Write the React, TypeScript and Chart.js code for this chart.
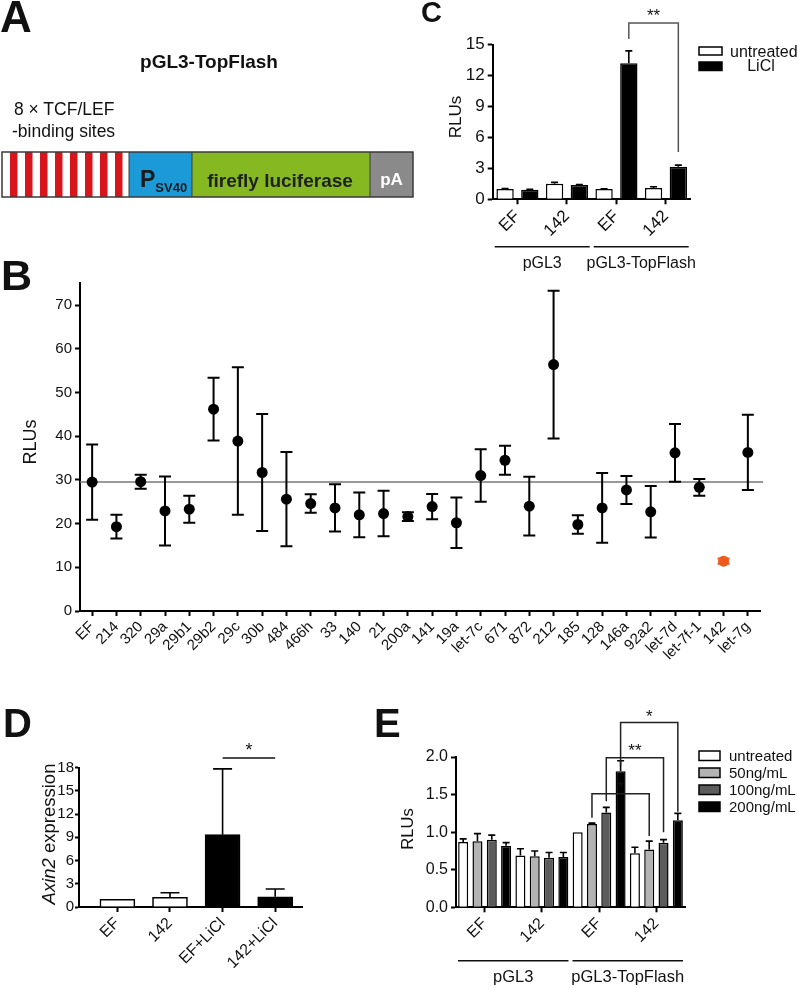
import React, { useEffect, useRef } from 'react';
import { Chart, registerables } from 'chart.js';

Chart.register(...registerables);

const FONT = '"Liberation Sans", Arial, Helvetica, sans-serif';
const ORANGE = '#ee5a1c';

// ---------- Panel B data ----------
const bLabels = ['EF', '214', '320', '29a', '29b1', '29b2', '29c', '30b', '484', '466h', '33', '140', '21', '200a', '141', '19a', 'let-7c', '671', '872', '212', '185', '128', '146a', '92a2', 'let-7d', 'let-7f-1', '142', 'let-7g'];
const bMeans = [29.5, 19.3, 29.6, 22.9, 23.3, 46.2, 38.9, 31.7, 25.6, 24.6, 23.6, 22.0, 22.3, 21.6, 23.9, 20.2, 31.0, 34.5, 24.0, 56.4, 19.8, 23.6, 27.7, 22.7, 36.2, 28.3, 11.4, 36.3];
const bErrors = [8.6, 2.7, 1.6, 7.9, 3.1, 7.2, 16.9, 13.4, 10.8, 2.1, 5.4, 5.1, 5.2, 1.0, 2.9, 5.8, 6.0, 3.3, 6.7, 16.9, 2.1, 8.0, 3.2, 5.9, 6.6, 1.9, 0.6, 8.6];
const bReference = 29.5;
const bHighlighted = '142';
const bTicks = [0, 10, 20, 30, 40, 50, 60, 70];
const bMax = 75;

// ---------- Panel C data ----------
const cCategories = ['EF', '142', 'EF', '142'];
const cUntreated = [1.0, 1.5, 1.0, 1.1];
const cUntreatedErr = [0.04, 0.14, 0.03, 0.12];
const cLiCl = [0.92, 1.38, 13.2, 3.15];
const cLiClErr = [0.04, 0.04, 1.2, 0.17];
const cGroupNames = ['pGL3', 'pGL3-TopFlash'];
const cGroupStart = [0, 2];
const cGroupEnd = [1, 3];
const cBracket = { fromCat: 2, toCat: 3, leftEnd: 15.55, top: 17.1, rightEnd: 4.6, labelAt: 18.3, label: '**' };

// ---------- Panel D data ----------
const dCategories = ['EF', '142', 'EF+LiCl', '142+LiCl'];
const dValues = [1.0, 1.25, 9.35, 1.33];
const dErrors = [0, 0.6, 8.5, 1.0];
const dLiClFlags = [false, false, true, true];
const dBracket = { fromCat: 2, toCat: 3, at: 19.25, labelAt: 20.9, label: '*' };

// ---------- Panel E data ----------
const eCategories = ['EF', '142', 'EF', '142'];
const eSeriesNames = ['untreated', '50ng/mL', '100ng/mL', '200ng/mL'];
const eUntreated = [0.87, 0.69, 1.0, 0.72];
const eUntreatedErr = [0.04, 0.09, 0, 0.08];
const e50 = [0.88, 0.68, 1.11, 0.77];
const e50Err = [0.1, 0.07, 0.01, 0.11];
const e100 = [0.9, 0.66, 1.26, 0.86];
const e100Err = [0.06, 0.07, 0.07, 0.04];
const e200 = [0.82, 0.67, 1.81, 1.16];
const e200Err = [0.04, 0.06, 0.14, 0.09];
const eGroupNames = ['pGL3', 'pGL3-TopFlash'];
const eGroupStart = [0, 2];
const eGroupEnd = [1, 3];
const eBrackets = [
  { ds: 1, fromCat: 2, toCat: 3, leftEnd: 1.19, top: 1.51, rightEnd: 0.95, labelAt: 1.65, label: '*' },
  { ds: 2, fromCat: 2, toCat: 3, leftEnd: 1.41, top: 1.99, rightEnd: 1.0, labelAt: 2.14, label: '**' },
  { ds: 3, fromCat: 2, toCat: 3, leftEnd: 1.88, top: 2.46, rightEnd: 1.27, labelAt: 2.6, label: '*' },
];

const E_COLORS = ['#ffffff', '#b3b3b3', '#5c5c5c', '#000000'];

type Box = { left: number; top: number; width: number; height: number };
type Area = { left: number; top: number; right: number; bottom: number };

function font(size: number, style = '') {
  return `${style} ${size}px ${FONT}`.trim();
}

function axisBase(size: number, tickLength = 5) {
  return {
    border: { display: true, color: '#000', width: 2 },
    grid: { display: true, drawOnChartArea: false, drawTicks: true, tickLength, tickWidth: 2, tickColor: '#000', offset: false },
    ticks: { color: '#111', font: { family: FONT, size }, padding: 3 },
  };
}

function xCategory(size: number) {
  const a: any = axisBase(size);
  a.type = 'category';
  a.offset = true;
  a.ticks = { ...a.ticks, maxRotation: 45, minRotation: 45, autoSkip: false, padding: 2 };
  return a;
}

// categories placed on a numeric axis (allows the leading gap seen in panel D)
function xCategoryLinear(size: number, labels: string[], min: number, max: number) {
  const a: any = axisBase(size);
  a.type = 'linear';
  a.min = min;
  a.max = max;
  a.offset = false;
  a.afterBuildTicks = (s: any) => { s.ticks = labels.map((_, i) => ({ value: i })); };
  a.ticks = { ...a.ticks, maxRotation: 45, minRotation: 45, autoSkip: false, padding: 2, callback: (v: any) => labels[Number(v)] ?? '' };
  return a;
}

function yLinear(size: number, min: number, max: number, step: number, fmt?: (v: number) => string, tickLength = 5, padding = 3) {
  const a: any = axisBase(size, tickLength);
  a.type = 'linear';
  a.min = min;
  a.max = max;
  a.ticks = { ...a.ticks, stepSize: step, padding };
  if (fmt) a.ticks.callback = (v: any) => fmt(Number(v));
  return a;
}

function drawYTitle(ctx: CanvasRenderingContext2D, parts: { text: string; italic?: boolean }[], x: number, y: number, size: number) {
  ctx.save();
  ctx.translate(x, y);
  ctx.rotate(-Math.PI / 2);
  ctx.textBaseline = 'middle';
  ctx.textAlign = 'left';
  ctx.fillStyle = '#111';
  const fonts = parts.map((p) => font(size, p.italic ? 'italic' : ''));
  let total = 0;
  const widths = parts.map((p, i) => {
    ctx.font = fonts[i];
    const w = ctx.measureText(p.text).width;
    total += w;
    return w;
  });
  let cx = -total / 2;
  parts.forEach((p, i) => {
    ctx.font = fonts[i];
    ctx.fillText(p.text, cx, 0);
    cx += widths[i];
  });
  ctx.restore();
}

function drawStar(ctx: CanvasRenderingContext2D, text: string, x: number, yCenter: number, size: number) {
  ctx.save();
  ctx.font = font(size);
  ctx.fillStyle = '#111';
  ctx.textAlign = 'center';
  ctx.textBaseline = 'alphabetic';
  ctx.fillText(text, x, yCenter + 0.58 * size);
  ctx.restore();
}

function drawBarErrors(chart: any, values: number[][], errs: number[][], cap: number, lw: number) {
  const ctx: CanvasRenderingContext2D = chart.ctx;
  const ys = chart.scales.y;
  ctx.save();
  ctx.strokeStyle = '#000';
  ctx.lineWidth = lw;
  errs.forEach((arr, d) => {
    const meta = chart.getDatasetMeta(d);
    meta.data.forEach((el: any, i: number) => {
      const e = arr[i];
      if (!e) return;
      const v = values[d][i];
      const yTop = ys.getPixelForValue(v + e);
      ctx.beginPath();
      ctx.moveTo(el.x, el.y);
      ctx.lineTo(el.x, yTop);
      ctx.moveTo(el.x - cap / 2, yTop);
      ctx.lineTo(el.x + cap / 2, yTop);
      ctx.stroke();
    });
  });
  ctx.restore();
}

function drawGroups(chart: any, names: string[], starts: number[], ends: number[], lineOffset: number, textOffset: number, size: number) {
  const ctx: CanvasRenderingContext2D = chart.ctx;
  const xs = chart.scales.x;
  const w = xs.getPixelForValue(1) - xs.getPixelForValue(0);
  const yLine = chart.chartArea.bottom + lineOffset;
  ctx.save();
  ctx.strokeStyle = '#111';
  ctx.lineWidth = 1.5;
  ctx.fillStyle = '#111';
  ctx.font = font(size);
  ctx.textAlign = 'center';
  ctx.textBaseline = 'middle';
  names.forEach((n, i) => {
    const l = xs.getPixelForValue(starts[i]) - w / 2 + 2;
    const r = xs.getPixelForValue(ends[i]) + w / 2 - 2;
    ctx.beginPath();
    ctx.moveTo(l, yLine);
    ctx.lineTo(r, yLine);
    ctx.stroke();
    ctx.fillText(n, (l + r) / 2, yLine + textOffset);
  });
  ctx.restore();
}

function drawBracket(chart: any, ds: number, b: any, color: string, starSize: number) {
  const ctx: CanvasRenderingContext2D = chart.ctx;
  const ys = chart.scales.y;
  const meta = chart.getDatasetMeta(ds);
  const xl = meta.data[b.fromCat].x;
  const xr = meta.data[b.toCat].x;
  ctx.save();
  ctx.strokeStyle = color;
  ctx.lineWidth = 1.5;
  ctx.beginPath();
  ctx.moveTo(xl, ys.getPixelForValue(b.leftEnd));
  ctx.lineTo(xl, ys.getPixelForValue(b.top));
  ctx.lineTo(xr, ys.getPixelForValue(b.top));
  ctx.lineTo(xr, ys.getPixelForValue(b.rightEnd));
  ctx.stroke();
  ctx.restore();
  drawStar(ctx, b.label, (xl + xr) / 2, ys.getPixelForValue(b.labelAt), starSize);
}

function ChartPanel({ box, area, make }: { box: Box; area: Area; make: (box: Box) => any }) {
  const ref = useRef<HTMLCanvasElement>(null);
  useEffect(() => {
    const cfg = make(box);
    const o = cfg.options;
    o.responsive = false;
    o.maintainAspectRatio = false;
    o.animation = false;
    o.devicePixelRatio = 1;
    o.events = [];
    o.plugins = { ...(o.plugins || {}), legend: { display: false }, tooltip: { enabled: false }, title: { display: false } };
    o.layout = { padding: { left: 0, top: area.top - box.top, right: box.left + box.width - area.right, bottom: 0 } };
    const yW = area.left - box.left;
    const xH = box.top + box.height - area.bottom;
    o.scales.x.afterFit = (s: any) => { s.height = xH; };
    o.scales.y.afterFit = (s: any) => { s.width = yW; };
    const chart = new Chart(ref.current as HTMLCanvasElement, cfg);
    return () => chart.destroy();
  }, []);
  return (
    <canvas
      ref={ref}
      width={box.width}
      height={box.height}
      style={{ position: 'absolute', left: box.left, top: box.top, width: box.width, height: box.height }}
    />
  );
}

// ---------- chart builders ----------
function makeB(box: Box) {
  const plugin = {
    id: 'bExtras',
    beforeDatasetsDraw(chart: any) {
      const ctx: CanvasRenderingContext2D = chart.ctx;
      const ys = chart.scales.y;
      const ca = chart.chartArea;
      ctx.save();
      ctx.strokeStyle = '#777';
      ctx.lineWidth = 1.5;
      const yr = ys.getPixelForValue(bReference);
      ctx.beginPath();
      ctx.moveTo(ca.left, yr);
      ctx.lineTo(ca.right + 3, yr);
      ctx.stroke();
      const meta = chart.getDatasetMeta(0);
      ctx.lineWidth = 2;
      meta.data.forEach((pt: any, i: number) => {
        const top = ys.getPixelForValue(bMeans[i] + bErrors[i]);
        const bot = ys.getPixelForValue(bMeans[i] - bErrors[i]);
        ctx.strokeStyle = bLabels[i] === bHighlighted ? ORANGE : '#000';
        ctx.beginPath();
        ctx.moveTo(pt.x, top);
        ctx.lineTo(pt.x, bot);
        ctx.moveTo(pt.x - 6, top);
        ctx.lineTo(pt.x + 6, top);
        ctx.moveTo(pt.x - 6, bot);
        ctx.lineTo(pt.x + 6, bot);
        ctx.stroke();
      });
      ctx.restore();
    },
    afterDraw(chart: any) {
      drawYTitle(chart.ctx, [{ text: 'RLUs' }], 31 - box.left, 442 - box.top, 18);
    },
  };
  const y = yLinear(15, 0, bMax, 10);
  y.afterBuildTicks = (s: any) => { s.ticks = bTicks.map((v) => ({ value: v })); };
  return {
    type: 'line',
    data: {
      labels: bLabels,
      datasets: [
        {
          label: 'RLUs',
          data: bMeans,
          showLine: false,
          pointRadius: 5.5,
          pointHoverRadius: 5.5,
          pointBorderWidth: 0,
          pointBackgroundColor: bLabels.map((l) => (l === bHighlighted ? ORANGE : '#000')),
          pointBorderColor: bLabels.map((l) => (l === bHighlighted ? ORANGE : '#000')),
        },
      ],
    },
    options: { scales: { x: xCategory(15), y } },
    plugins: [plugin],
  };
}

function makeC(box: Box) {
  const plugin = {
    id: 'cExtras',
    afterDatasetsDraw(chart: any) {
      drawBarErrors(chart, [cUntreated, cLiCl], [cUntreatedErr, cLiClErr], 7, 1.6);
      drawBracket(chart, 1, cBracket, '#555', 17);
      drawGroups(chart, cGroupNames, cGroupStart, cGroupEnd, 47.4, 16.6, 16);
      drawYTitle(chart.ctx, [{ text: 'RLUs' }], 456 - box.left, 117 - box.top, 17);
    },
  };
  return {
    type: 'bar',
    data: {
      labels: cCategories,
      datasets: [
        { label: 'untreated', data: cUntreated, backgroundColor: '#fff', borderColor: '#000', borderWidth: 1.5, categoryPercentage: 1, barPercentage: 0.7 },
        { label: 'LiCl', data: cLiCl, backgroundColor: '#000', borderColor: '#000', borderWidth: 1.5, categoryPercentage: 1, barPercentage: 0.7 },
      ],
    },
    options: { scales: { x: xCategory(17), y: yLinear(17, 0, 15, 3) } },
    plugins: [plugin],
  };
}

function makeD(box: Box) {
  const plugin = {
    id: 'dExtras',
    afterDatasetsDraw(chart: any) {
      drawBarErrors(chart, [dValues], [dErrors], 19, 1.6);
      const b = { fromCat: dBracket.fromCat, toCat: dBracket.toCat, leftEnd: dBracket.at, top: dBracket.at, rightEnd: dBracket.at, labelAt: dBracket.labelAt, label: dBracket.label };
      drawBracket(chart, 0, b, '#111', 18);
      drawYTitle(chart.ctx, [{ text: 'Axin2', italic: true }, { text: ' expression' }], 50 - box.left, 834 - box.top, 18.5);
    },
  };
  return {
    type: 'bar',
    data: {
      datasets: [
        {
          label: 'Axin2',
          data: dValues.map((v, i) => ({ x: i, y: v })),
          backgroundColor: dLiClFlags.map((f) => (f ? '#000' : '#fff')),
          borderColor: '#000',
          borderWidth: 1.6,
          barThickness: 35,
        },
      ],
    },
    options: {
      scales: {
        x: xCategoryLinear(16, dCategories, -0.73, 3.51),
        y: yLinear(15, 0, 18, 3, undefined, 4, 1),
      },
    },
    plugins: [plugin],
  };
}

function makeE(box: Box) {
  const plugin = {
    id: 'eExtras',
    afterDatasetsDraw(chart: any) {
      drawBarErrors(chart, [eUntreated, e50, e100, e200], [eUntreatedErr, e50Err, e100Err, e200Err], 7, 1.6);
      eBrackets.forEach((b) => drawBracket(chart, b.ds, b, '#222', 17));
      drawGroups(chart, eGroupNames, eGroupStart, eGroupEnd, 53.4, 17, 16.5);
      drawYTitle(chart.ctx, [{ text: 'RLUs' }], 408 - box.left, 829 - box.top, 16.5);
    },
  };
  const series = [eUntreated, e50, e100, e200];
  return {
    type: 'bar',
    data: {
      labels: eCategories,
      datasets: series.map((s, i) => ({
        label: eSeriesNames[i],
        data: s,
        backgroundColor: E_COLORS[i],
        borderColor: '#000',
        borderWidth: 1.5,
        categoryPercentage: 1,
        barPercentage: 0.7,
      })),
    },
    options: { scales: { x: xCategory(16), y: yLinear(16, 0, 2, 0.5, (v) => v.toFixed(1)) } },
    plugins: [plugin],
  };
}

const stripeIdx = [0, 1, 2, 3, 4, 5, 6, 7];

function Overlay() {
  const t = { fontFamily: FONT, fill: '#111' } as any;
  return (
    <svg width={798} height={988} style={{ position: 'absolute', left: 0, top: 0, pointerEvents: 'none' }}>
      {/* Panel letters */}
      <text x={0} y={32} fontSize={44} fontWeight="bold" style={t}>A</text>
      <text x={1} y={290} fontSize={43} fontWeight="bold" style={t}>B</text>
      <text x={421} y={22} fontSize={29} fontWeight="bold" style={t}>C</text>
      <text x={3} y={737} fontSize={40} fontWeight="bold" style={t}>D</text>
      <text x={374} y={737} fontSize={40} fontWeight="bold" style={t}>E</text>

      {/* Panel A diagram */}
      <text x={209} y={68} fontSize={19} fontWeight="bold" textAnchor="middle" style={t}>pGL3-TopFlash</text>
      <text x={14} y={115} fontSize={17.5} style={t}>8 × TCF/LEF</text>
      <text x={12} y={137} fontSize={17.5} style={t}>-binding sites</text>
      <rect x={2} y={152} width={127} height={45} fill="#fff" />
      {stripeIdx.map((k) => (
        <rect key={k} x={10 + 15 * k} y={152} width={7.5} height={45} fill="#d8141d" />
      ))}
      <rect x={129} y={152} width={63} height={45} fill="#1b9ad7" />
      <rect x={192} y={152} width={178} height={45} fill="#85b821" />
      <rect x={370} y={152} width={43} height={45} fill="#8a8a8a" />
      <rect x={2} y={152} width={411} height={45} fill="none" stroke="#3a3a3a" strokeWidth={1.5} />
      <line x1={129} y1={152} x2={129} y2={197} stroke="#3a3a3a" strokeWidth={1} />
      <line x1={192} y1={152} x2={192} y2={197} stroke="#3a3a3a" strokeWidth={1} />
      <line x1={370} y1={152} x2={370} y2={197} stroke="#3a3a3a" strokeWidth={1} />
      <text x={140} y={187} fontSize={23} fontWeight="bold" style={{ ...t, fill: '#1a1a1a' }}>
        P<tspan fontSize={13} dy={5}>SV40</tspan>
      </text>
      <text x={280} y={187} fontSize={19} fontWeight="bold" textAnchor="middle" style={{ ...t, fill: '#1f1f1f' }}>firefly luciferase</text>
      <text x={391.5} y={185} fontSize={17} fontWeight="bold" textAnchor="middle" style={{ ...t, fill: '#fff' }}>pA</text>

      {/* Panel C legend */}
      <rect x={699} y={47} width={23} height={8} fill="#fff" stroke="#000" strokeWidth={1.5} />
      <rect x={699} y={62} width={23} height={8.5} fill="#000" stroke="#000" strokeWidth={1.5} />
      <text x={730} y={56.5} fontSize={16} style={t}>untreated</text>
      <text x={761} y={70.5} fontSize={16} textAnchor="middle" style={t}>LiCl</text>

      {/* Panel E legend */}
      {eSeriesNames.map((n, i) => (
        <g key={n}>
          <rect x={699} y={751 + i * 17} width={21} height={9.5} fill={E_COLORS[i]} stroke="#000" strokeWidth={1.5} />
          <text x={729} y={761 + i * 17} fontSize={15} style={t}>{n}</text>
        </g>
      ))}
    </svg>
  );
}

export default function App() {
  useEffect(() => {
    document.body.style.margin = '0';
  }, []);
  return (
    <div style={{ position: 'absolute', left: 0, top: 0, width: 798, height: 988, background: '#fff', overflow: 'hidden' }}>
      <ChartPanel box={{ left: 0, top: 260, width: 790, height: 420 }} area={{ left: 80, top: 283.3, right: 760, bottom: 611 }} make={makeB} />
      <ChartPanel box={{ left: 420, top: 0, width: 290, height: 290 }} area={{ left: 492.7, top: 44.7, right: 690.7, bottom: 199.3 }} make={makeC} />
      <ChartPanel box={{ left: 0, top: 690, width: 380, height: 298 }} area={{ left: 79, top: 767.7, right: 302, bottom: 907 }} make={makeD} />
      <ChartPanel box={{ left: 380, top: 690, width: 418, height: 298 }} area={{ left: 456, top: 757, right: 685, bottom: 907.3 }} make={makeE} />
      <Overlay />
    </div>
  );
}
